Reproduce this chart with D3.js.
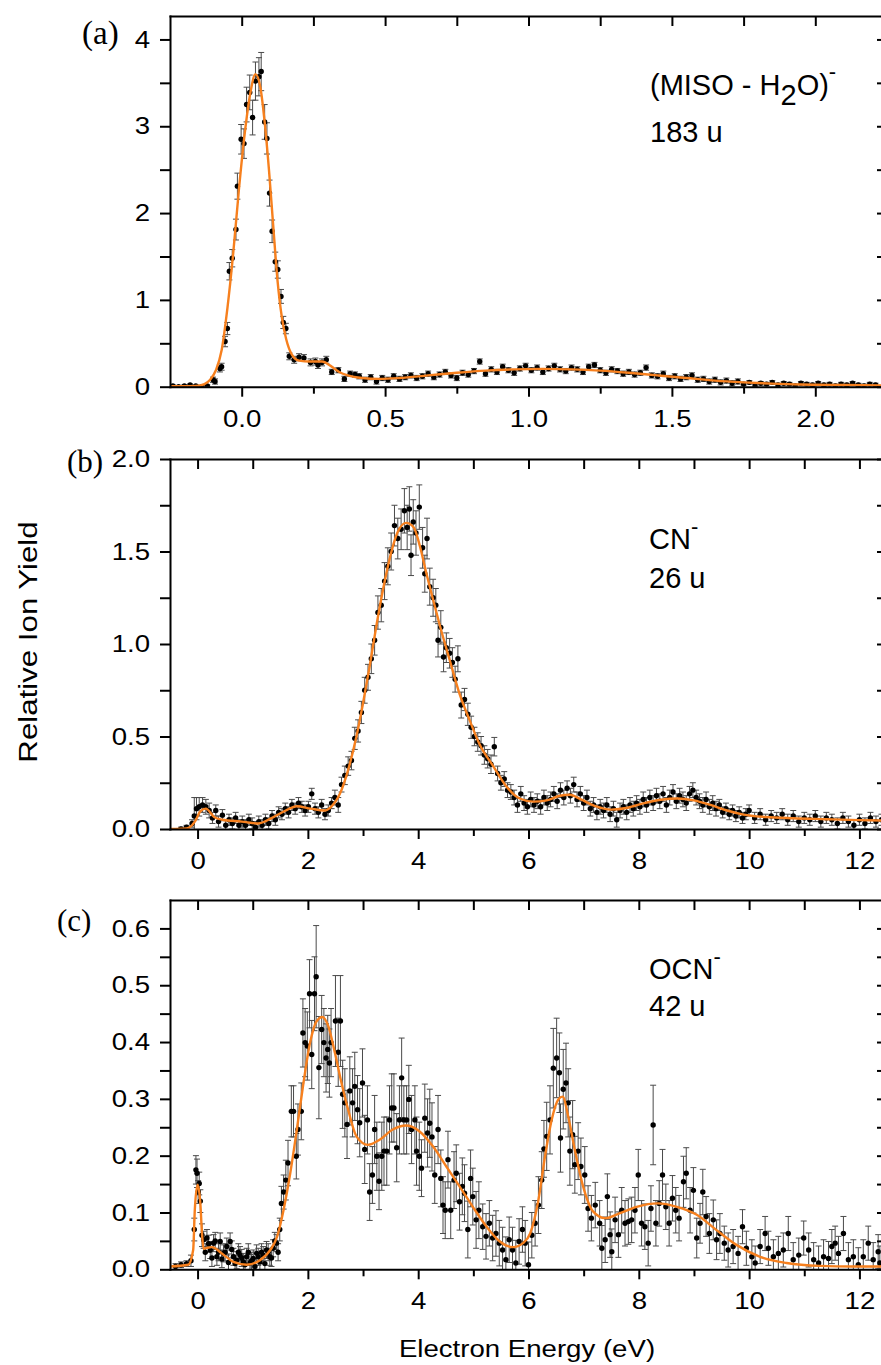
<!DOCTYPE html>
<html>
<head>
<meta charset="utf-8">
<script src="https://cdn.jsdelivr.net/npm/d3@7"></script>
<style>
  body { margin: 0; background: #fff; }
  svg { display: block; }
</style>
</head>
<body>
<div id="chart"></div>
<script>
// ---- data: [energy (eV), yield, error] ----
var pointsA = [
  [-0.24,0.01,0.01],[-0.22,0.0,0.01],[-0.2,0.01,0.01],[-0.18,0.02,0.01],[-0.16,0.01,0.01],[-0.14,0.0,0.01],[-0.12,0.01,0.01],
  [-0.1,0.08,0.03],[-0.093,0.06,0.03],[-0.076,0.21,0.04],[-0.07,0.23,0.04],[-0.058,0.52,0.06],[-0.05,0.67,0.07],
  [-0.043,1.33,0.1],[-0.033,1.48,0.1],[-0.02,1.81,0.12],[-0.015,2.31,0.15],[-0.002,2.85,0.17],[0.008,2.8,0.17],
  [0.017,3.25,0.2],[0.028,3.39,0.2],[0.038,3.1,0.2],[0.048,3.52,0.22],[0.06,3.57,0.22],[0.068,3.63,0.22],
  [0.08,3.05,0.2],[0.088,2.86,0.18],[0.097,2.23,0.15],[0.106,1.79,0.13],[0.117,1.44,0.11],[0.126,1.35,0.1],
  [0.137,1.04,0.08],[0.145,0.74,0.07],[0.154,0.67,0.06],[0.166,0.35,0.04],[0.183,0.31,0.04],[0.2,0.34,0.04],
  [0.217,0.33,0.04],[0.24,0.28,0.04],[0.257,0.29,0.04],[0.266,0.25,0.04],[0.28,0.28,0.04],[0.295,0.31,0.04],
  [0.314,0.17,0.03],[0.337,0.19,0.03],[0.358,0.09,0.03],[0.378,0.15,0.03],[0.395,0.14,0.03],
  [0.41,0.12,0.03],[0.43,0.08,0.03],[0.45,0.11,0.03],[0.47,0.06,0.03],[0.49,0.1,0.03],[0.51,0.08,0.03],
  [0.53,0.12,0.03],[0.55,0.09,0.03],[0.57,0.11,0.03],[0.59,0.13,0.03],[0.61,0.1,0.03],[0.63,0.12,0.03],
  [0.65,0.15,0.03],[0.67,0.11,0.03],[0.69,0.14,0.03],[0.71,0.17,0.03],[0.73,0.13,0.03],[0.75,0.1,0.03],
  [0.77,0.16,0.03],[0.79,0.14,0.03],[0.81,0.18,0.03],[0.83,0.29,0.03],[0.85,0.15,0.03],[0.87,0.2,0.03],
  [0.89,0.17,0.03],[0.91,0.23,0.03],[0.93,0.19,0.03],[0.95,0.16,0.03],[0.97,0.21,0.03],[0.99,0.24,0.03],
  [1.01,0.19,0.03],[1.03,0.22,0.03],[1.05,0.17,0.03],[1.07,0.21,0.03],[1.09,0.24,0.03],[1.11,0.2,0.03],
  [1.13,0.18,0.03],[1.15,0.22,0.03],[1.17,0.2,0.03],[1.19,0.17,0.03],[1.21,0.23,0.03],[1.23,0.25,0.03],
  [1.25,0.19,0.03],[1.27,0.16,0.03],[1.29,0.2,0.03],[1.31,0.18,0.03],[1.33,0.15,0.03],[1.35,0.17,0.03],
  [1.37,0.14,0.03],[1.39,0.16,0.03],[1.41,0.22,0.03],[1.43,0.13,0.03],[1.45,0.12,0.03],[1.47,0.15,0.03],
  [1.49,0.1,0.03],[1.51,0.12,0.03],[1.53,0.09,0.03],[1.55,0.11,0.03],[1.57,0.13,0.03],[1.59,0.08,0.03],
  [1.61,0.09,0.03],[1.63,0.06,0.03],[1.65,0.08,0.03],[1.67,0.05,0.03],[1.69,0.07,0.03],[1.71,0.04,0.03],
  [1.73,0.06,0.03],[1.75,0.03,0.02],[1.77,0.05,0.02],[1.79,0.02,0.02],[1.81,0.04,0.02],[1.83,0.03,0.02],
  [1.85,0.05,0.02],[1.87,0.02,0.02],[1.89,0.04,0.02],[1.91,0.03,0.02],[1.93,0.01,0.02],[1.95,0.04,0.02],
  [1.97,0.03,0.02],[1.99,0.02,0.02],[2.01,0.04,0.02],[2.03,0.02,0.02],[2.05,0.03,0.02],[2.07,0.01,0.02],
  [2.09,0.03,0.02],[2.11,0.02,0.02],[2.13,0.04,0.02],[2.15,0.02,0.02],[2.17,0.01,0.02],[2.19,0.03,0.02],[2.21,0.02,0.02]
];
var fitA = [
  [-0.25,0.005],[-0.2,0.005],[-0.16,0.008],[-0.13,0.03],[-0.11,0.08],[-0.09,0.19],[-0.07,0.42],[-0.05,0.9],
  [-0.03,1.52],[-0.01,2.26],[0.01,2.9],[0.03,3.38],[0.048,3.6],[0.065,3.45],[0.08,3.05],[0.095,2.5],[0.11,1.85],
  [0.125,1.22],[0.14,0.8],[0.155,0.55],[0.175,0.37],[0.2,0.3],[0.24,0.29],[0.28,0.29],[0.31,0.24],[0.34,0.17],
  [0.37,0.13],[0.42,0.1],[0.48,0.09],[0.55,0.1],[0.65,0.13],[0.75,0.16],[0.85,0.185],[0.95,0.2],[1.05,0.205],
  [1.15,0.2],[1.25,0.185],[1.35,0.16],[1.45,0.13],[1.55,0.1],[1.65,0.07],[1.75,0.05],[1.85,0.035],[1.95,0.025],
  [2.1,0.02],[2.25,0.015]
];

var pointsB = [
  [-0.3,0.0,0.01],[-0.2,0.01,0.01],[-0.1,0.03,0.02],[-0.06,0.07,0.1],[-0.02,0.11,0.06],[0.03,0.12,0.05],
  [0.09,0.13,0.04],[0.15,0.12,0.04],[0.21,0.1,0.04],[0.27,0.06,0.03],[0.33,0.1,0.03],[0.38,0.04,0.03],
  [0.45,0.075,0.03],[0.51,0.02,0.03],[0.57,0.05,0.03],[0.63,0.03,0.03],[0.69,0.06,0.03],[0.75,0.02,0.03],
  [0.81,0.04,0.03],[0.87,0.02,0.03],[0.93,0.05,0.03],[0.99,0.03,0.03],[1.05,0.01,0.03],[1.11,0.04,0.03],
  [1.17,0.02,0.03],[1.23,0.05,0.03],[1.29,0.03,0.03],[1.35,0.07,0.03],[1.41,0.05,0.03],[1.47,0.09,0.03],
  [1.53,0.08,0.03],[1.59,0.11,0.03],[1.65,0.09,0.03],[1.71,0.13,0.03],[1.77,0.11,0.03],[1.83,0.14,0.03],
  [1.89,0.12,0.03],[1.95,0.1,0.03],[2.01,0.12,0.03],[2.07,0.19,0.03],[2.13,0.11,0.03],[2.19,0.09,0.03],
  [2.25,0.13,0.03],[2.31,0.08,0.03],[2.37,0.1,0.03],[2.43,0.14,0.03],[2.49,0.17,0.04],[2.55,0.13,0.04],
  [2.61,0.24,0.04],[2.67,0.29,0.05],[2.73,0.34,0.05],[2.79,0.37,0.05],[2.85,0.49,0.06],[2.91,0.53,0.06],
  [2.97,0.63,0.06],[3.03,0.75,0.07],[3.09,0.82,0.07],[3.15,0.92,0.08],[3.21,1.02,0.08],[3.27,1.17,0.09],
  [3.33,1.21,0.09],[3.39,1.34,0.1],[3.45,1.42,0.1],[3.51,1.5,0.1],[3.57,1.64,0.11],[3.63,1.57,0.11],
  [3.69,1.62,0.11],[3.75,1.72,0.12],[3.8,1.63,0.12],[3.84,1.73,0.12],[3.87,1.48,0.11],[3.91,1.66,0.12],
  [3.96,1.6,0.12],[4.02,1.74,0.12],[4.08,1.52,0.11],[4.12,1.38,0.1],[4.16,1.57,0.11],[4.21,1.31,0.1],
  [4.27,1.25,0.1],[4.32,1.21,0.09],[4.36,1.02,0.09],[4.41,1.09,0.09],[4.46,0.93,0.08],[4.51,0.98,0.08],
  [4.57,0.95,0.08],[4.62,0.9,0.08],[4.67,0.81,0.07],[4.72,0.92,0.07],[4.78,0.67,0.07],[4.84,0.7,0.06],
  [4.9,0.62,0.06],[4.96,0.55,0.06],[5.02,0.5,0.05],[5.08,0.47,0.05],[5.14,0.45,0.05],[5.2,0.4,0.05],
  [5.26,0.38,0.05],[5.32,0.35,0.05],[5.38,0.445,0.05],[5.44,0.3,0.04],[5.5,0.25,0.04],[5.56,0.27,0.04],
  [5.62,0.21,0.04],[5.68,0.2,0.04],[5.74,0.17,0.04],[5.8,0.13,0.04],[5.86,0.19,0.04],[5.92,0.14,0.04],
  [5.98,0.12,0.04],[6.04,0.16,0.04],[6.1,0.13,0.04],[6.16,0.15,0.04],[6.22,0.12,0.04],[6.28,0.17,0.04],
  [6.34,0.14,0.04],[6.4,0.16,0.04],[6.46,0.19,0.04],[6.52,0.15,0.04],[6.58,0.21,0.04],[6.64,0.17,0.04],
  [6.7,0.22,0.04],[6.76,0.18,0.04],[6.82,0.24,0.04],[6.88,0.16,0.04],[6.94,0.19,0.04],[7.0,0.14,0.04],
  [7.06,0.17,0.04],[7.12,0.11,0.04],[7.18,0.13,0.04],[7.24,0.09,0.04],[7.3,0.12,0.04],[7.36,0.1,0.04],
  [7.42,0.13,0.04],[7.48,0.08,0.04],[7.54,0.11,0.04],[7.6,0.05,0.04],[7.66,0.1,0.04],[7.72,0.12,0.04],
  [7.78,0.09,0.04],[7.84,0.13,0.04],[7.9,0.11,0.04],[7.96,0.14,0.04],[8.02,0.12,0.04],[8.08,0.16,0.04],
  [8.14,0.13,0.04],[8.2,0.17,0.04],[8.26,0.14,0.04],[8.32,0.18,0.04],[8.38,0.15,0.04],[8.44,0.19,0.04],
  [8.5,0.13,0.04],[8.56,0.17,0.04],[8.62,0.2,0.04],[8.68,0.15,0.04],[8.74,0.18,0.04],[8.8,0.16,0.04],
  [8.86,0.14,0.04],[8.92,0.19,0.04],[8.98,0.21,0.04],[9.04,0.17,0.04],[9.1,0.15,0.04],[9.16,0.13,0.04],
  [9.22,0.16,0.04],[9.28,0.12,0.04],[9.34,0.14,0.04],[9.4,0.11,0.04],[9.46,0.13,0.03],[9.52,0.09,0.03],
  [9.58,0.11,0.03],[9.64,0.08,0.03],[9.7,0.1,0.03],[9.76,0.07,0.03],[9.82,0.09,0.03],[9.88,0.06,0.03],
  [9.94,0.08,0.03],[10.0,0.1,0.03],[10.1,0.06,0.03],[10.2,0.08,0.03],[10.3,0.05,0.03],[10.4,0.07,0.03],
  [10.5,0.06,0.03],[10.6,0.08,0.03],[10.7,0.05,0.03],[10.8,0.07,0.03],[10.9,0.04,0.03],[11.0,0.06,0.03],
  [11.1,0.05,0.03],[11.2,0.07,0.03],[11.3,0.04,0.03],[11.4,0.06,0.03],[11.5,0.05,0.03],[11.6,0.03,0.03],
  [11.7,0.06,0.03],[11.8,0.04,0.03],[11.9,0.02,0.03],[12.0,0.05,0.03],[12.1,0.03,0.03],[12.2,0.06,0.03],
  [12.3,0.04,0.03],[12.4,0.05,0.03]
];
var fitB = [
  [-0.5,0],[-0.2,0.003],[-0.05,0.04],[0.05,0.095],[0.15,0.11],[0.3,0.065],[0.45,0.05],[0.8,0.04],[1.1,0.03],
  [1.35,0.06],[1.6,0.1],[1.8,0.123],[2.05,0.11],[2.3,0.1],[2.42,0.12],[2.58,0.19],[2.73,0.32],[2.88,0.5],
  [3.0,0.68],[3.12,0.88],[3.24,1.095],[3.36,1.29],[3.49,1.47],[3.62,1.6],[3.78,1.655],[3.92,1.63],[4.03,1.53],
  [4.15,1.38],[4.27,1.24],[4.42,1.07],[4.57,0.915],[4.75,0.73],[4.93,0.59],[5.11,0.46],[5.36,0.34],[5.6,0.23],
  [5.84,0.165],[6.09,0.148],[6.33,0.155],[6.57,0.18],[6.75,0.185],[6.95,0.16],[7.2,0.125],[7.5,0.105],
  [7.8,0.115],[8.1,0.14],[8.4,0.158],[8.7,0.165],[9.0,0.155],[9.3,0.13],[9.6,0.1],[9.9,0.078],[10.3,0.065],
  [10.8,0.058],[11.4,0.053],[12.0,0.048],[12.5,0.045]
];

var pointsC = [
  [-0.4,0.005,0.005],[-0.3,0.008,0.005],[-0.2,0.01,0.005],[-0.12,0.015,0.01],[-0.06,0.07,0.02],
  [-0.03,0.175,0.025],[-0.01,0.169,0.025],[0.01,0.136,0.02],[0.03,0.151,0.02],[0.05,0.12,0.02],[0.08,0.06,0.02],
  [0.11,0.052,0.015],[0.14,0.03,0.015],[0.17,0.055,0.015],[0.2,0.045,0.015],[0.23,0.034,0.015],[0.26,0.02,0.015],
  [0.29,0.046,0.015],[0.32,0.05,0.015],[0.35,0.022,0.015],[0.38,0.03,0.015],[0.41,0.049,0.015],[0.44,0.018,0.015],
  [0.47,0.028,0.015],[0.5,0.03,0.015],[0.53,0.04,0.015],[0.56,0.012,0.015],[0.59,0.049,0.015],[0.62,0.035,0.015],
  [0.65,0.022,0.015],[0.68,0.01,0.015],[0.71,0.016,0.015],[0.74,0.03,0.015],[0.77,0.025,0.015],[0.8,0.02,0.015],
  [0.83,0.013,0.015],[0.86,0.008,0.015],[0.89,0.022,0.015],[0.92,0.03,0.015],[0.95,0.011,0.015],[0.98,0.015,0.015],
  [1.01,0.019,0.015],[1.04,0.005,0.015],[1.07,0.028,0.015],[1.1,0.022,0.015],[1.13,0.013,0.015],[1.16,0.03,0.015],
  [1.19,0.025,0.015],[1.22,0.01,0.015],[1.25,0.034,0.015],[1.28,0.03,0.015],[1.31,0.022,0.015],[1.34,0.02,0.015],
  [1.37,0.037,0.015],[1.4,0.05,0.015],[1.43,0.046,0.015],[1.46,0.03,0.015],[1.49,0.07,0.02],
  [1.52,0.116,0.03],[1.56,0.136,0.03],[1.6,0.157,0.035],[1.64,0.187,0.04],[1.7,0.278,0.045],[1.74,0.278,0.045],
  [1.79,0.199,0.04],[1.82,0.246,0.045],[1.88,0.278,0.05],[1.91,0.416,0.06],[1.95,0.399,0.06],[1.99,0.393,0.06],
  [2.03,0.485,0.06],[2.07,0.378,0.06],[2.12,0.485,0.065],[2.15,0.515,0.09],[2.2,0.355,0.09],[2.25,0.422,0.06],
  [2.29,0.399,0.06],[2.33,0.372,0.06],[2.36,0.387,0.06],[2.39,0.363,0.06],[2.42,0.399,0.06],[2.5,0.437,0.08],
  [2.55,0.382,0.06],[2.59,0.437,0.08],[2.63,0.308,0.06],[2.67,0.293,0.06],[2.71,0.255,0.06],[2.76,0.314,0.06],
  [2.81,0.293,0.06],[2.85,0.322,0.06],[2.9,0.281,0.06],[2.94,0.258,0.06],[2.99,0.328,0.06],[3.03,0.211,0.06],
  [3.08,0.263,0.06],[3.12,0.136,0.05],[3.17,0.166,0.05],[3.21,0.246,0.06],[3.25,0.199,0.06],[3.29,0.155,0.05],
  [3.34,0.199,0.06],[3.38,0.208,0.06],[3.43,0.208,0.06],[3.48,0.263,0.06],[3.52,0.284,0.06],[3.56,0.284,0.06],
  [3.61,0.214,0.06],[3.66,0.263,0.06],[3.7,0.337,0.07],[3.74,0.263,0.06],[3.79,0.263,0.06],[3.83,0.299,0.06],
  [3.88,0.246,0.06],[3.94,0.263,0.06],[3.97,0.208,0.06],[4.02,0.199,0.06],[4.06,0.178,0.05],[4.12,0.266,0.06],
  [4.17,0.24,0.06],[4.21,0.257,0.06],[4.25,0.233,0.06],[4.3,0.166,0.05],[4.36,0.246,0.06],[4.41,0.16,0.05],
  [4.45,0.113,0.05],[4.49,0.104,0.05],[4.54,0.193,0.05],[4.59,0.104,0.05],[4.65,0.157,0.05],[4.69,0.169,0.05],
  [4.75,0.119,0.05],[4.8,0.146,0.05],[4.84,0.134,0.05],[4.9,0.07,0.05],[4.95,0.16,0.05],[4.99,0.128,0.05],
  [5.05,0.087,0.05],[5.1,0.104,0.05],[5.17,0.075,0.04],[5.23,0.058,0.04],[5.29,0.081,0.04],[5.35,0.055,0.04],
  [5.41,0.063,0.04],[5.47,0.046,0.04],[5.53,0.034,0.04],[5.59,0.017,0.04],[5.65,0.052,0.04],[5.71,0.034,0.04],
  [5.77,0.011,0.04],[5.83,0.049,0.04],[5.89,0.07,0.04],[5.94,0.046,0.04],[6.0,0.008,0.04],[6.06,0.06,0.04],
  [6.12,0.081,0.04],[6.18,0.113,0.05],[6.24,0.157,0.05],[6.28,0.212,0.05],[6.33,0.234,0.06],[6.39,0.263,0.06],
  [6.45,0.354,0.07],[6.51,0.372,0.07],[6.56,0.346,0.07],[6.58,0.231,0.06],[6.63,0.317,0.07],[6.68,0.328,0.07],
  [6.72,0.293,0.06],[6.75,0.208,0.06],[6.8,0.237,0.06],[6.84,0.184,0.05],[6.9,0.208,0.05],[6.95,0.181,0.05],
  [7.02,0.166,0.05],[7.08,0.107,0.04],[7.14,0.09,0.04],[7.21,0.113,0.04],[7.29,0.081,0.04],[7.33,0.037,0.04],
  [7.39,0.052,0.04],[7.43,0.128,0.04],[7.48,0.061,0.04],[7.51,0.031,0.04],[7.57,0.087,0.04],[7.63,0.061,0.04],
  [7.69,0.104,0.04],[7.75,0.081,0.04],[7.81,0.084,0.04],[7.87,0.087,0.04],[7.93,0.104,0.04],[7.99,0.166,0.045],
  [8.05,0.081,0.04],[8.11,0.075,0.04],[8.17,0.046,0.04],[8.22,0.107,0.04],[8.26,0.254,0.07],[8.31,0.081,0.04],
  [8.37,0.116,0.04],[8.43,0.166,0.045],[8.49,0.11,0.04],[8.55,0.081,0.04],[8.61,0.125,0.04],[8.67,0.104,0.04],
  [8.73,0.09,0.04],[8.81,0.154,0.045],[8.86,0.169,0.045],[8.93,0.104,0.04],[8.99,0.139,0.04],[9.05,0.055,0.035],
  [9.11,0.081,0.035],[9.16,0.136,0.04],[9.22,0.093,0.035],[9.28,0.063,0.035],[9.35,0.087,0.035],[9.41,0.052,0.035],
  [9.47,0.063,0.035],[9.55,0.046,0.03],[9.62,0.034,0.03],[9.71,0.04,0.03],[9.8,0.028,0.03],[9.88,0.075,0.03],
  [9.95,0.037,0.03],[10.05,0.022,0.03],[10.11,0.011,0.03],[10.2,0.04,0.03],[10.29,0.063,0.03],[10.35,0.037,0.03],
  [10.44,0.022,0.03],[10.53,0.028,0.03],[10.62,0.034,0.03],[10.71,0.063,0.03],[10.8,0.017,0.03],[10.9,0.025,0.03],
  [10.99,0.055,0.03],[11.08,0.034,0.03],[11.17,0.017,0.03],[11.26,0.011,0.03],[11.35,0.022,0.03],[11.44,0.019,0.03],
  [11.5,0.04,0.03],[11.56,0.046,0.03],[11.62,0.028,0.03],[11.71,0.063,0.03],[11.8,0.017,0.03],[11.89,0.022,0.03],
  [11.98,0.008,0.03],[12.07,0.022,0.03],[12.16,0.046,0.03],[12.25,0.017,0.03],[12.34,0.031,0.03],[12.37,0.011,0.03]
];
var fitC = [
  [-0.5,0.005],[-0.17,0.008],[-0.08,0.034],[-0.05,0.105],[0.0,0.149],[0.05,0.116],[0.08,0.063],[0.11,0.036],
  [0.18,0.038],[0.26,0.039],[0.44,0.028],[0.65,0.013],[0.89,0.008],[1.13,0.016],[1.32,0.034],[1.44,0.057],
  [1.56,0.105],[1.68,0.169],[1.8,0.246],[1.92,0.328],[2.04,0.399],[2.16,0.437],[2.26,0.444],[2.37,0.428],
  [2.49,0.381],[2.61,0.328],[2.73,0.281],[2.88,0.234],[3.09,0.219],[3.3,0.228],[3.54,0.246],[3.78,0.253],
  [4.02,0.243],[4.27,0.216],[4.51,0.181],[4.75,0.146],[4.99,0.11],[5.24,0.075],[5.48,0.049],[5.72,0.039],
  [5.9,0.046],[6.03,0.063],[6.18,0.122],[6.3,0.199],[6.42,0.263],[6.54,0.299],[6.62,0.304],[6.72,0.269],
  [6.84,0.21],[6.99,0.146],[7.17,0.102],[7.39,0.09],[7.66,0.099],[7.96,0.11],[8.35,0.116],[8.69,0.11],
  [9.05,0.096],[9.41,0.069],[9.77,0.043],[10.2,0.022],[10.68,0.011],[11.28,0.006],[11.89,0.005],[12.5,0.005]
];

// ticks
var xMajorA = [0, 0.5, 1.0, 1.5, 2.0];
var xMinorA = [0.25, 0.75, 1.25, 1.75];
var yMajorA = [0, 1, 2, 3, 4];
var yMinorA = [0.5, 1.5, 2.5, 3.5];
var xMajorBC = [0, 2, 4, 6, 8, 10, 12];
var xMinorBC = [1, 3, 5, 7, 9, 11];
var yMajorB = [0, 0.5, 1.0, 1.5, 2.0];
var yMinorB = [0.25, 0.75, 1.25, 1.75];
var yMajorC = [0, 0.1, 0.2, 0.3, 0.4, 0.5, 0.6];
var yMinorC = [0.05, 0.15, 0.25, 0.35, 0.45, 0.55];

var W = 881, H = 1365;
var plotLeft = 170, plotRight = 887;
var sansFont = "'Liberation Sans', Arial, sans-serif";
var serifFont = "'Liberation Serif', 'Times New Roman', serif";
var SX = 1.15; // labels in the figure are a bit wide

var svg = d3.select('#chart').append('svg')
  .attr('width', W)
  .attr('height', H);

function styleAxis(ax) {
  ax.selectAll('.domain').attr('stroke', '#000').attr('stroke-width', 2).attr('stroke-linecap', 'square');
  ax.selectAll('.tick line').attr('stroke', '#000').attr('stroke-width', 2);
  ax.selectAll('text')
    .attr('fill', '#000')
    .attr('font-size', 24)
    .attr('font-family', sansFont)
    .each(function() {
      var t = d3.select(this);
      var x = +t.attr('x') || 0;
      t.attr('x', x / SX).attr('transform', 'scale(' + SX + ',1)');
    });
}

function drawPanel(p) {
  var x = d3.scaleLinear().domain(p.xDomain).range([plotLeft, plotRight]);
  var y = d3.scaleLinear().domain(p.yDomain).range([p.bottom, p.top]);

  svg.append('clipPath').attr('id', 'clip' + p.name)
    .append('rect')
    .attr('x', plotLeft).attr('y', p.top)
    .attr('width', plotRight - plotLeft).attr('height', p.bottom - p.top);

  var g = svg.append('g');
  var inner = g.append('g').attr('clip-path', 'url(#clip' + p.name + ')');

  // error bars
  var bars = inner.selectAll('.err').data(p.points).enter().append('g').attr('class', 'err')
    .attr('stroke', '#4a4a4a').attr('stroke-width', 1);
  bars.append('line')
    .attr('x1', function(d) { return x(d[0]); })
    .attr('x2', function(d) { return x(d[0]); })
    .attr('y1', function(d) { return y(d[1] - d[2]); })
    .attr('y2', function(d) { return y(d[1] + d[2]); });
  bars.append('line')
    .attr('x1', function(d) { return x(d[0]) - 3; })
    .attr('x2', function(d) { return x(d[0]) + 3; })
    .attr('y1', function(d) { return y(d[1] + d[2]); })
    .attr('y2', function(d) { return y(d[1] + d[2]); });
  bars.append('line')
    .attr('x1', function(d) { return x(d[0]) - 3; })
    .attr('x2', function(d) { return x(d[0]) + 3; })
    .attr('y1', function(d) { return y(d[1] - d[2]); })
    .attr('y2', function(d) { return y(d[1] - d[2]); });

  inner.selectAll('.dot').data(p.points).enter().append('circle')
    .attr('class', 'dot')
    .attr('cx', function(d) { return x(d[0]); })
    .attr('cy', function(d) { return y(d[1]); })
    .attr('r', 2.7)
    .attr('fill', '#000');

  var line = d3.line()
    .x(function(d) { return x(d[0]); })
    .y(function(d) { return y(d[1]); })
    .curve(d3.curveMonotoneX);

  inner.append('path')
    .datum(p.fit)
    .attr('d', line)
    .attr('fill', 'none')
    .attr('stroke', '#f7801e')
    .attr('stroke-width', 2.4);

  // axes
  var bx = g.append('g').attr('transform', 'translate(0,' + p.bottom + ')')
    .call(d3.axisBottom(x).tickValues(p.xMajor).tickFormat(p.xFmt).tickSize(10).tickSizeOuter(0).tickPadding(13));
  styleAxis(bx);
  var bxm = g.append('g').attr('transform', 'translate(0,' + p.bottom + ')')
    .call(d3.axisBottom(x).tickValues(p.xMinor).tickFormat('').tickSize(7).tickSizeOuter(0));
  bxm.select('.domain').remove();
  styleAxis(bxm);

  var tx = g.append('g').attr('transform', 'translate(0,' + p.top + ')')
    .call(d3.axisTop(x).tickValues(p.xMajor.concat(p.xMinor)).tickFormat('').tickSize(-10).tickSizeOuter(0));
  styleAxis(tx);

  var ly = g.append('g').attr('transform', 'translate(' + plotLeft + ',0)')
    .call(d3.axisLeft(y).tickValues(p.yMajor).tickFormat(p.yFmt).tickSize(10).tickSizeOuter(0).tickPadding(10));
  styleAxis(ly);
  var lym = g.append('g').attr('transform', 'translate(' + plotLeft + ',0)')
    .call(d3.axisLeft(y).tickValues(p.yMinor).tickFormat('').tickSize(10).tickSizeOuter(0));
  lym.select('.domain').remove();
  styleAxis(lym);

  var ry = g.append('g').attr('transform', 'translate(' + plotRight + ',0)')
    .call(d3.axisRight(y).tickValues(p.yMajor.concat(p.yMinor)).tickFormat('').tickSize(-10).tickSizeOuter(0));
  styleAxis(ry);
}

drawPanel({
  name: 'a', top: 16, bottom: 386.7,
  xDomain: [-0.25, 2.25], yDomain: [0, 4.27],
  xMajor: xMajorA, xMinor: xMinorA, yMajor: yMajorA, yMinor: yMinorA,
  xFmt: d3.format('.1f'), yFmt: d3.format('d'),
  points: pointsA, fit: fitA
});
drawPanel({
  name: 'b', top: 459, bottom: 829,
  xDomain: [-0.5, 12.5], yDomain: [0, 2.0],
  xMajor: xMajorBC, xMinor: xMinorBC, yMajor: yMajorB, yMinor: yMinorB,
  xFmt: d3.format('d'), yFmt: d3.format('.1f'),
  points: pointsB, fit: fitB
});
drawPanel({
  name: 'c', top: 900, bottom: 1269.3,
  xDomain: [-0.5, 12.5], yDomain: [0, 0.65],
  xMajor: xMajorBC, xMinor: xMinorBC, yMajor: yMajorC, yMinor: yMinorC,
  xFmt: d3.format('d'), yFmt: d3.format('.1f'),
  points: pointsC, fit: fitC
});

// panel letters
svg.append('text').attr('x', 82).attr('y', 44).attr('font-family', serifFont).attr('font-size', 33).text('(a)');
svg.append('text').attr('x', 67).attr('y', 472).attr('font-family', serifFont).attr('font-size', 31).text('(b)');
svg.append('text').attr('x', 57).attr('y', 931).attr('font-family', serifFont).attr('font-size', 31).text('(c)');

// ion labels
function ionLabel(x0, y0, parts, mass) {
  var t = svg.append('text').attr('x', x0).attr('y', y0)
    .attr('font-family', sansFont).attr('font-size', 29).attr('fill', '#000');
  parts.forEach(function(p) {
    var s = t.append('tspan').text(p.text);
    if (p.dy) s.attr('dy', p.dy);
    if (p.size) s.attr('font-size', p.size);
  });
  svg.append('text').attr('x', x0).attr('y', y0 + mass.gap)
    .attr('font-family', sansFont).attr('font-size', 29).attr('fill', '#000')
    .text(mass.text);
}
ionLabel(650, 95, [
  { text: '(MISO - H' }, { text: '2', dy: 10 }, { text: 'O)', dy: -10 }, { text: '-', dy: -16, size: 22 }
], { text: '183 u', gap: 47 });
ionLabel(649, 549, [{ text: 'CN' }, { text: '-', dy: -15, size: 22 }], { text: '26 u', gap: 39 });
ionLabel(649, 979, [{ text: 'OCN' }, { text: '-', dy: -15, size: 22 }], { text: '42 u', gap: 37 });

// axis titles
svg.append('text')
  .attr('transform', 'translate(527,1357) scale(' + SX + ',1)')
  .attr('text-anchor', 'middle')
  .attr('font-family', sansFont).attr('font-size', 24).attr('fill', '#000')
  .text('Electron Energy (eV)');
svg.append('text')
  .attr('transform', 'translate(37,642) rotate(-90) scale(1.25,1)')
  .attr('text-anchor', 'middle')
  .attr('font-family', sansFont).attr('font-size', 25).attr('fill', '#000')
  .text('Relative Ion Yield');
</script>
</body>
</html>
